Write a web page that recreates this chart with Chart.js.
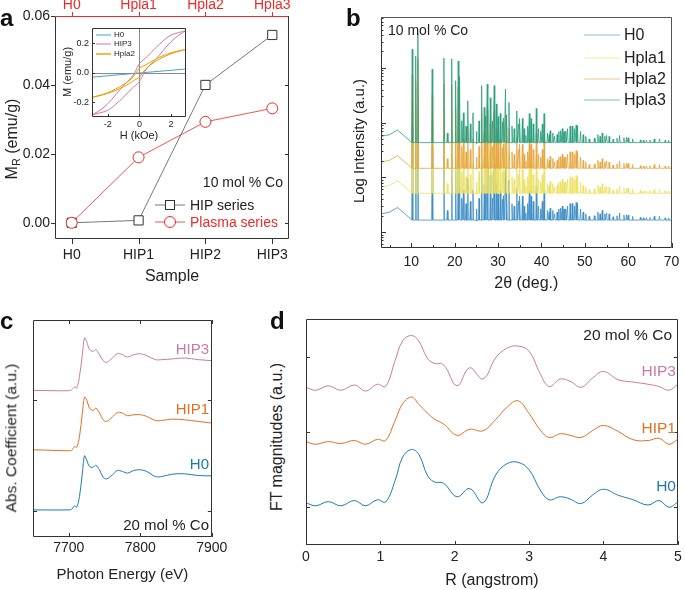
<!DOCTYPE html>
<html><head><meta charset="utf-8">
<script src="https://cdn.jsdelivr.net/npm/chart.js@4.4.1/dist/chart.umd.min.js"></script>
<style>
body{margin:0;background:#fff;width:685px;height:590px;overflow:hidden;position:relative;font-family:'Liberation Sans',Arial,sans-serif;}
canvas{position:absolute;}
.t{position:absolute;white-space:nowrap;line-height:1;}
</style></head><body>
<script>
// ---------------- DATA ----------------
// (a) remanent magnetisation
const samplesHIP = ['H0','HIP1','HIP2','HIP3'];
const samplesPlasma = ['H0','Hpla1','Hpla2','Hpla3'];
const mrHIP = [0, 0.0007, 0.0400, 0.0545];
const mrPlasma = [0, 0.0190, 0.0293, 0.0332];
const aYTicks = [0, 0.02, 0.04, 0.06];
// (a) inset hysteresis loops, H in kOe, M in emu/g
const insetH0_H = [-3, 0, 2.95];
const insetH0_M = [-0.03, -0.002, 0.025];
const hip3Down_H = [2.95, 2.5, 2, 1.5, 1, 0.5, 0, -0.3, -0.6, -1, -1.5, -2, -2.5, -3];
const hip3Down_M = [0.285, 0.272, 0.255, 0.215, 0.165, 0.11, 0.06, 0.0, -0.045, -0.085, -0.15, -0.21, -0.255, -0.285];
const hip3Up_H = [-3, -2.5, -2, -1.5, -1, -0.5, 0, 0.3, 0.6, 1, 1.5, 2, 2.5, 2.95];
const hip3Up_M = [-0.285, -0.272, -0.255, -0.215, -0.165, -0.11, -0.06, 0.0, 0.045, 0.085, 0.15, 0.21, 0.255, 0.285];
const hpla2Down_H = [2.95, 2.5, 2, 1.5, 1, 0.6, 0.3, 0, -0.2, -0.5, -1, -1.5, -2, -2.5, -3];
const hpla2Down_M = [0.158, 0.148, 0.135, 0.115, 0.09, 0.065, 0.048, 0.03, 0.0, -0.04, -0.08, -0.11, -0.135, -0.153, -0.167];
const hpla2Up_H = [-3, -2.5, -2, -1.5, -1, -0.6, -0.3, 0, 0.2, 0.5, 1, 1.5, 2, 2.5, 2.95];
const hpla2Up_M = [-0.167, -0.155, -0.14, -0.12, -0.095, -0.07, -0.05, -0.03, 0.0, 0.035, 0.075, 0.105, 0.128, 0.145, 0.158];
const insetXTicks = [-2, 0, 2];
const insetYTicks = [-0.2, 0, 0.2];
// (b) XRD
const xrdSeries = ['H0','Hpla1','Hpla2','Hpla3'];
const xrdBase = [1.65, 5.1, 14.6, 43];
const xrdBgAngle = [3, 5, 6.8, 8.5, 9.7, 15, 25, 40];
const xrdBgRatio = [1.3, 1.4, 1.7, 1.3, 1.08, 1.0, 0.96, 1.0];
const xrdPeakAngle = [10.2, 11.0, 11.5, 14.8, 17.5, 18.3, 19.3, 20.2, 20.8, 21.1, 21.6, 22.0, 22.6, 23.0, 23.6, 24.2, 25.0, 25.6, 26.2, 26.8, 27.1, 27.5, 28.2, 28.7, 29.1, 29.6, 30.0, 30.5, 31.0, 31.3, 31.7, 32.0, 32.5, 33.2, 33.7, 34.3, 34.7, 35.0, 35.6, 36.0, 36.4, 36.8, 37.2, 37.6, 38.1, 38.8, 39.3, 39.8, 40.2, 40.6, 41.4, 41.8, 42.0, 42.6, 43.0, 43.6, 44.0, 44.4, 44.8, 45.2, 45.6, 46.0, 46.6, 47.1, 47.6, 48.0, 48.3, 49.0, 49.6, 50.2, 51.0, 52.2, 53.0, 53.5, 54.0, 54.6, 55.0, 55.6, 56.5, 57.4, 58.0, 59.0, 59.6, 60.0, 61.0, 62.8, 63.5, 64.2, 65.0, 66.0, 67.2, 68.5, 69.3];
const xrdPeakRatio = [51, 38, 100, 22, 35, 1.5, 34, 13.5, 31, 16, 2.5, 3.5, 2.0, 5.8, 2.2, 3.5, 1.6, 2.5, 11, 4.4, 3.0, 11.7, 6.6, 2.5, 11, 5.1, 3.0, 3.4, 2.4, 2.8, 9.5, 3.2, 5.4, 2.0, 1.8, 3.8, 2.2, 2.75, 2.75, 1.8, 1.35, 2.0, 3.4, 2.75, 2.2, 4.2, 1.8, 1.6, 2.2, 3.4, 1.5, 1.4, 1.65, 1.5, 1.3, 1.4, 1.6, 1.65, 1.8, 1.6, 1.6, 1.8, 2.0, 2.0, 1.8, 2.1, 2.0, 1.6, 1.4, 1.3, 1.17, 1.2, 1.4, 1.3, 1.5, 1.3, 1.35, 1.3, 1.15, 1.2, 1.35, 1.23, 1.25, 1.23, 1.17, 1.12, 1.1, 1.1, 1.12, 1.17, 1.17, 1.1, 1.1];
const xrdXTicks = [10, 20, 30, 40, 50, 60, 70];
const xrdXMinor = [5, 15, 25, 35, 45, 55, 65];
const xrdYMajor = [1, 10, 100, 1000];
const xrdYMinor = [0.6,0.7,0.8,0.9,2,3,4,5,6,7,8,9,20,30,40,50,60,70,80,90,200,300,400,500,600,700,800,900,2000,3000,4000,5000,6000,7000,8000];
// (c) XANES
const xanesE = [7650,7700,7704,7708,7711,7715,7719,7722,7725,7729,7734,7738,7743,7748,7753,7761,7768,7775,7782,7791,7800,7809,7821,7830,7844,7862,7881,7900];
const xanesH0 = [0.006,0.006,0.012,0.042,0.03,0.127,0.34,0.497,0.46,0.40,0.394,0.41,0.37,0.303,0.288,0.324,0.364,0.355,0.34,0.364,0.37,0.355,0.309,0.309,0.33,0.334,0.318,0.315];
const xanesHIP1 = [0.552,0.543,0.546,0.582,0.573,0.673,0.885,1.03,1.006,0.93,0.909,0.93,0.885,0.824,0.809,0.849,0.891,0.885,0.861,0.87,0.87,0.855,0.818,0.818,0.83,0.824,0.809,0.794];
const xanesHIP3 = [1.091,1.088,1.097,1.121,1.112,1.218,1.415,1.567,1.536,1.461,1.446,1.461,1.415,1.361,1.346,1.385,1.424,1.415,1.394,1.415,1.424,1.406,1.37,1.37,1.376,1.385,1.37,1.361];
const xanesXTicks = [7700, 7800, 7900];
const xanesYTicks = [0, 1];
// (d) EXAFS Fourier transform
const ftR = [0,0.13,0.3,0.47,0.65,0.8,0.96,1.07,1.2,1.3,1.42,1.52,1.63,1.72,1.85,2.03,2.2,2.38,2.55,2.7,2.85,3.0,3.15,3.27,3.42,3.55,3.7,3.85,4.0,4.2,4.4,4.6,4.75,4.88,5.0];
const ftH0 = [0.06,0.02,0.075,0.02,0.09,0.02,0.10,0.07,0.36,0.67,0.77,0.70,0.43,0.34,0.32,0.14,0.25,0.06,0.43,0.58,0.60,0.50,0.23,0.10,0.14,0.11,0.05,0.16,0.24,0.16,0.10,0.03,0.09,0.00,0.07];
const ftHIP1 = [0.875,0.84,0.875,0.85,0.89,0.84,0.906,0.89,1.16,1.38,1.47,1.37,1.26,1.18,1.11,0.96,1.04,1.02,1.17,1.33,1.42,1.25,1.03,0.93,0.98,0.96,0.93,1.02,1.09,1.01,0.90,0.89,0.92,0.84,0.906];
const ftHIP3 = [1.60,1.56,1.62,1.56,1.63,1.55,1.64,1.61,1.96,2.22,2.29,2.21,1.99,1.92,1.90,1.62,1.86,1.71,1.99,2.12,2.15,2.08,1.78,1.61,1.71,1.68,1.60,1.72,1.81,1.70,1.67,1.64,1.61,1.56,1.64];
const ftXTicks = [0,1,2,3,4,5];
const ftYTicks = [0,1,2];

// ---------------- STYLE ----------------
const F = "'Liberation Sans', Arial, sans-serif";
const RED = '#ec2a2a';
const C_H0 = '#1f7ab4', C_HIP1 = '#e07124', C_HIP3 = '#cc79a7';
const C_B = ['#3a8cc4', '#ece15e', '#e6a43c', '#2a9d7d'];
Chart.defaults.font.family = F;
Chart.defaults.color = '#222';

const deco = {
  id: 'deco',
  beforeDatasetsDraw(chart, args, o) {
    if (!o || !o.zero) return;
    const {ctx, chartArea: a} = chart;
    ctx.save(); ctx.strokeStyle = '#8a8a8a'; ctx.lineWidth = 1; ctx.beginPath();
    const px = Math.round(chart.scales.x.getPixelForValue(0)) + 0.5;
    const py = Math.round(chart.scales.y.getPixelForValue(0)) + 0.5;
    ctx.moveTo(px, a.top); ctx.lineTo(px, a.bottom);
    ctx.moveTo(a.left, py); ctx.lineTo(a.right, py);
    ctx.stroke(); ctx.restore();
  },
  afterDatasetsDraw(chart, args, o) {
    if (!o) return;
    const {ctx, chartArea: a} = chart;
    ctx.save(); ctx.lineWidth = 1;
    (o.marks || []).forEach(m => {
      const sc = chart.scales[m.scale];
      ctx.strokeStyle = m.color || '#333';
      ctx.beginPath();
      m.values.forEach(v => {
        const p = Math.round(sc.getPixelForValue(v)) + 0.5;
        const d = m.dir === 'in' ? 1 : -1, L = m.len;
        m.sides.forEach(s => {
          if (s === 'left') { ctx.moveTo(a.left, p); ctx.lineTo(a.left + d * L, p); }
          if (s === 'right') { ctx.moveTo(a.right, p); ctx.lineTo(a.right - d * L, p); }
          if (s === 'bottom') { ctx.moveTo(p, a.bottom); ctx.lineTo(p, a.bottom - d * L); }
          if (s === 'top') { ctx.moveTo(p, a.top); ctx.lineTo(p, a.top + d * L); }
        });
      });
      ctx.stroke();
    });
    const f = o.frame || {};
    const L = Math.round(a.left) + 0.5, R = Math.round(a.right) - 0.5, T = Math.round(a.top) + 0.5, B = Math.round(a.bottom) - 0.5;
    [['top', L, T, R, T], ['bottom', L, B, R, B], ['left', L, T, L, B], ['right', R, T, R, B]].forEach(([k, x1, y1, x2, y2]) => {
      ctx.strokeStyle = f[k] || '#333';
      ctx.beginPath(); ctx.moveTo(x1, y1); ctx.lineTo(x2, y2); ctx.stroke();
    });
    ctx.restore();
  }
};
Chart.register(deco);

function ax(o) {
  const s = {
    type: o.type || 'linear', position: o.position, min: o.min, max: o.max, display: true,
    grid: {display: false, drawTicks: false}, border: {display: false},
    ticks: {display: o.labels !== false, color: o.color || '#222', padding: o.pad === undefined ? 4 : o.pad,
      font: {size: o.fs || 14, family: F, lineHeight: 1.2}, autoSkip: false, maxRotation: 0, minRotation: 0},
    title: {display: false},
    afterFit: sc => { if (sc.isHorizontal()) sc.height = o.size; else sc.width = o.size; }
  };
  if (o.cb) s.ticks.callback = o.cb;
  if (o.ticksAt) s.afterBuildTicks = sc => { sc.ticks = o.ticksAt.map(v => ({value: v})); };
  if (o.title) s.title = {display: true, text: o.title, color: '#222', font: {size: o.tfs || 16, family: F, lineHeight: 1.2}, padding: {top: o.tpad || 0, bottom: o.tpad || 0}};
  return s;
}
function mk(left, top, w, h, cfg) {
  const c = document.createElement('canvas');
  c.width = w; c.height = h; c.style.left = left + 'px'; c.style.top = top + 'px';
  c.style.width = w + 'px'; c.style.height = h + 'px';
  document.body.appendChild(c);
  cfg.options = Object.assign({responsive: false, animation: false, devicePixelRatio: 1, events: []}, cfg.options);
  cfg.options.plugins = Object.assign({legend: {display: false}, tooltip: {enabled: false}}, cfg.options.plugins);
  return new Chart(c, cfg);
}
const xy = (xs, ys) => xs.map((x, i) => ({x: x, y: ys[i]}));
const line = (label, data, color, extra) => Object.assign({label, data, borderColor: color, backgroundColor: color, borderWidth: 1, pointRadius: 0, fill: false, tension: 0}, extra || {});

// ---------------- (a) ----------------
mk(0, 0, 300, 295, {
  type: 'line',
  data: {datasets: [
    line('Plasma series', xy([0,1,2,3], mrPlasma), RED, {borderWidth: 0.8, pointRadius: 5.5, pointStyle: 'circle', pointBorderColor: RED, pointBackgroundColor: '#fff', pointBorderWidth: 1}),
    line('HIP series', xy([0,1,2,3], mrHIP), '#555', {borderWidth: 0.8, pointRadius: 6.5, pointStyle: 'rect', pointBorderColor: '#333', pointBackgroundColor: '#fff', pointBorderWidth: 1})
  ]},
  options: {
    layout: {padding: {left: 0, top: 0, right: 11, bottom: 0}},
    scales: {
      x: ax({position: 'bottom', min: -0.25, max: 3.25, ticksAt: [0,1,2,3], cb: v => samplesHIP[v], pad: 8, size: 56, title: 'Sample', tfs: 16, tpad: 8.4}),
      x2: ax({position: 'top', min: -0.25, max: 3.25, ticksAt: [0,1,2,3], cb: v => samplesPlasma[v], color: RED, pad: 2, size: 16}),
      y: ax({position: 'left', min: -0.0047, max: 0.06, ticksAt: aYTicks, cb: v => v.toFixed(2), pad: 5, size: 55})
    },
    plugins: {deco: {frame: {top: RED}, marks: [
      {scale: 'y', values: aYTicks, sides: ['left'], dir: 'out', len: 4},
      {scale: 'y', values: aYTicks, sides: ['right'], dir: 'in', len: 4},
      {scale: 'x', values: [0,1,2,3], sides: ['bottom'], dir: 'out', len: 5},
      {scale: 'x2', values: [0,1,2,3], sides: ['top'], dir: 'out', len: 4, color: RED}
    ]}}
  }
});
// inset
mk(58, 20, 137, 125, {
  type: 'scatter',
  data: {datasets: [
    line('Hpla2', xy(hpla2Down_H.concat(hpla2Up_H), hpla2Down_M.concat(hpla2Up_M)), '#e6a000', {showLine: true, tension: 0.3}),
    line('HIP3', xy(hip3Down_H.concat(hip3Up_H), hip3Down_M.concat(hip3Up_M)), C_HIP3, {showLine: true, tension: 0.3}),
    line('H0', xy(insetH0_H, insetH0_M), '#4a9fd0', {showLine: true})
  ]},
  options: {
    layout: {padding: {top: 7, right: 9}},
    scales: {
      x: ax({position: 'bottom', min: -3, max: 2.95, ticksAt: insetXTicks, cb: v => String(v), fs: 9, pad: 2, size: 28, title: 'H (kOe)', tfs: 11, tpad: 2}),
      y: ax({position: 'left', min: -0.3, max: 0.3, ticksAt: insetYTicks, cb: v => v.toFixed(1), fs: 9, pad: 3, size: 34})
    },
    plugins: {deco: {zero: true, marks: [
      {scale: 'y', values: insetYTicks, sides: ['left'], dir: 'in', len: 3},
      {scale: 'x', values: insetXTicks, sides: ['bottom'], dir: 'in', len: 3}
    ]}}
  }
});

// ---------------- (b) ----------------
function xrdTrace(base) {
  const pts = xrdBgAngle.map((a, i) => ({x: a, y: base * xrdBgRatio[i]}));
  xrdPeakAngle.forEach((p, i) => { pts.push({x: p - 0.13, y: base}, {x: p, y: base * xrdPeakRatio[i]}, {x: p + 0.13, y: base}); });
  pts.push({x: 70, y: base});
  return pts.sort((a, b) => a.x - b.x);
}
mk(340, 0, 345, 295, {
  type: 'line',
  data: {datasets: xrdSeries.map((s, i) => line(s, xrdTrace(xrdBase[i]), C_B[i], {borderWidth: 0.8, order: 4 - i}))},
  options: {
    layout: {padding: {top: 17, right: 8}},
    scales: {
      x: ax({position: 'bottom', min: 3, max: 70, ticksAt: xrdXTicks, cb: v => String(v), pad: 5.6, size: 47, title: '2θ (deg.)', tfs: 16, tpad: 1.4}),
      y: ax({type: 'logarithmic', position: 'left', min: 0.51, max: 8500, labels: false, size: 41})
    },
    plugins: {deco: {frame: {top: '#555', right: '#555'}, marks: [
      {scale: 'x', values: xrdXTicks, sides: ['bottom'], dir: 'in', len: 5},
      {scale: 'x', values: xrdXMinor, sides: ['bottom'], dir: 'in', len: 3},
      {scale: 'y', values: xrdYMajor, sides: ['left'], dir: 'in', len: 5},
      {scale: 'y', values: xrdYMinor, sides: ['left'], dir: 'in', len: 2.5}
    ]}}
  }
});

// ---------------- (c) ----------------
mk(0, 300, 230, 290, {
  type: 'line',
  data: {datasets: [
    line('HIP3', xy(xanesE, xanesHIP3), C_HIP3, {tension: 0.35}),
    line('HIP1', xy(xanesE, xanesHIP1), C_HIP1, {tension: 0.35}),
    line('H0', xy(xanesE, xanesH0), C_H0, {tension: 0.35})
  ]},
  options: {
    layout: {padding: {top: 20, right: 17}},
    scales: {
      x: ax({position: 'bottom', min: 7650, max: 7900, ticksAt: xanesXTicks, cb: v => String(v), pad: 2.6, size: 53, title: 'Photon Energy (eV)', tfs: 15, tpad: 6}),
      y: ax({position: 'left', min: -0.24, max: 1.73, labels: false, size: 33})
    },
    plugins: {deco: {marks: [
      {scale: 'x', values: xanesXTicks, sides: ['bottom', 'top'], dir: 'in', len: 4},
      {scale: 'y', values: xanesYTicks, sides: ['left', 'right'], dir: 'in', len: 4}
    ]}}
  }
});

// ---------------- (d) ----------------
mk(290, 300, 395, 290, {
  type: 'line',
  data: {datasets: [
    line('HIP3', xy(ftR, ftHIP3), C_HIP3, {tension: 0.4}),
    line('HIP1', xy(ftR, ftHIP1), C_HIP1, {tension: 0.4}),
    line('H0', xy(ftR, ftH0), C_H0, {tension: 0.4})
  ]},
  options: {
    layout: {padding: {top: 19, right: 6}},
    scales: {
      x: ax({position: 'bottom', min: 0, max: 5, ticksAt: ftXTicks, cb: v => String(v), pad: 3.3, size: 45, title: 'R (angstrom)', tfs: 16, tpad: 0}),
      y: ax({position: 'left', min: -0.503, max: 2.51, labels: false, size: 16})
    },
    plugins: {deco: {marks: [
      {scale: 'x', values: ftXTicks, sides: ['bottom'], dir: 'in', len: 4},
      {scale: 'y', values: ftYTicks, sides: ['left', 'right'], dir: 'in', len: 4}
    ]}}
  }
});

// ---------------- HTML text ----------------
function txt(x, cy, html, size, color, align, extra) {
  const d = document.createElement('div');
  d.className = 't'; d.innerHTML = html;
  d.style.fontSize = size + 'px'; d.style.color = color || '#222';
  d.style.top = (cy - size / 2) + 'px';
  if (align === 'right') d.style.right = (685 - x) + 'px';
  else if (align === 'center') { d.style.left = x + 'px'; d.style.transform = 'translateX(-50%)'; }
  else d.style.left = x + 'px';
  if (extra) Object.assign(d.style, extra);
  document.body.appendChild(d);
  return d;
}
function vtxt(cx, cy, html, size, color) {
  const d = document.createElement('div');
  d.className = 't'; d.innerHTML = html;
  d.style.fontSize = size + 'px'; d.style.color = color || '#222';
  d.style.left = cx + 'px'; d.style.top = cy + 'px';
  d.style.transform = 'translate(-50%,-50%) rotate(-90deg)';
  document.body.appendChild(d);
}
function sym(x, cy, w, color, marker, lw, op) {
  const h = 14;
  let m = '';
  if (marker === 'rect') m = `<rect x="${w/2-4.5}" y="${h/2-4.5}" width="9" height="9" fill="#fff" stroke="#333" stroke-width="1"/>`;
  if (marker === 'circle') m = `<circle cx="${w/2}" cy="${h/2}" r="5.5" fill="#fff" stroke="${color}" stroke-width="1"/>`;
  const d = document.createElement('div');
  d.style.position = 'absolute'; d.style.left = x + 'px'; d.style.top = (cy - h / 2) + 'px';
  d.innerHTML = `<svg width="${w}" height="${h}"><line x1="0" y1="${h/2}" x2="${w}" y2="${h/2}" stroke="${color}" stroke-width="${lw||0.8}" opacity="${op||1}"/>${m}</svg>`;
  document.body.appendChild(d);
}
const B = {fontWeight: 'bold'};
txt(0, 18, 'a', 24, '#111', 'left', B);
txt(346, 18, 'b', 24, '#111', 'left', B);
txt(0, 321, 'c', 24, '#111', 'left', B);
txt(270, 321, 'd', 24, '#111', 'left', B);

// (a)
vtxt(13, 139, 'M<sub style="font-size:0.68em;vertical-align:-0.3em">R</sub> (emu/g)', 16);
txt(283, 182, '10 mol % Co', 14, '#222', 'right');
sym(155, 204.5, 30, '#555', 'rect');
txt(190, 204.5, 'HIP series', 14, '#222');
sym(155, 222, 30, RED, 'circle');
txt(190, 222, 'Plasma series', 14, RED);
vtxt(67, 72, 'M (emu/g)', 11);
sym(96, 34.5, 15, '#4a9fd0', null, 1);
txt(114, 34.5, 'H0', 8);
sym(96, 44, 15, C_HIP3, null, 1);
txt(114, 44, 'HIP3', 8);
sym(96, 53.5, 15, '#e6a000', null, 1.4);
txt(114, 53.5, 'Hpla2', 8);

// (b)
vtxt(358, 141, 'Log Intensity (a.u.)', 15);
txt(388, 30, '10 mol % Co', 14);
xrdSeries.forEach((s, i) => {
  const cy = [35, 57.5, 79, 100][i];
  sym(584, cy, 36, C_B[i], null, 1, 0.6);
  txt(624, cy, s, 16);
});

// (c)
vtxt(11, 438, 'Abs. Coefficient (a.u.)', 15.5);
txt(209, 348, 'HIP3', 15, C_HIP3, 'right');
txt(209, 408, 'HIP1', 15, C_HIP1, 'right');
txt(209, 463, 'H0', 15, C_H0, 'right');
txt(209, 524, '20 mol % Co', 15, '#222', 'right');

// (d)
vtxt(277, 437, 'FT magnitudes (a.u.)', 16);
txt(672, 335, '20 mol % Co', 15.5, '#222', 'right');
txt(676, 371, 'HIP3', 15.5, C_HIP3, 'right');
txt(676, 427.5, 'HIP1', 15.5, C_HIP1, 'right');
txt(676, 486, 'H0', 15.5, C_H0, 'right');
</script>
</body></html>
